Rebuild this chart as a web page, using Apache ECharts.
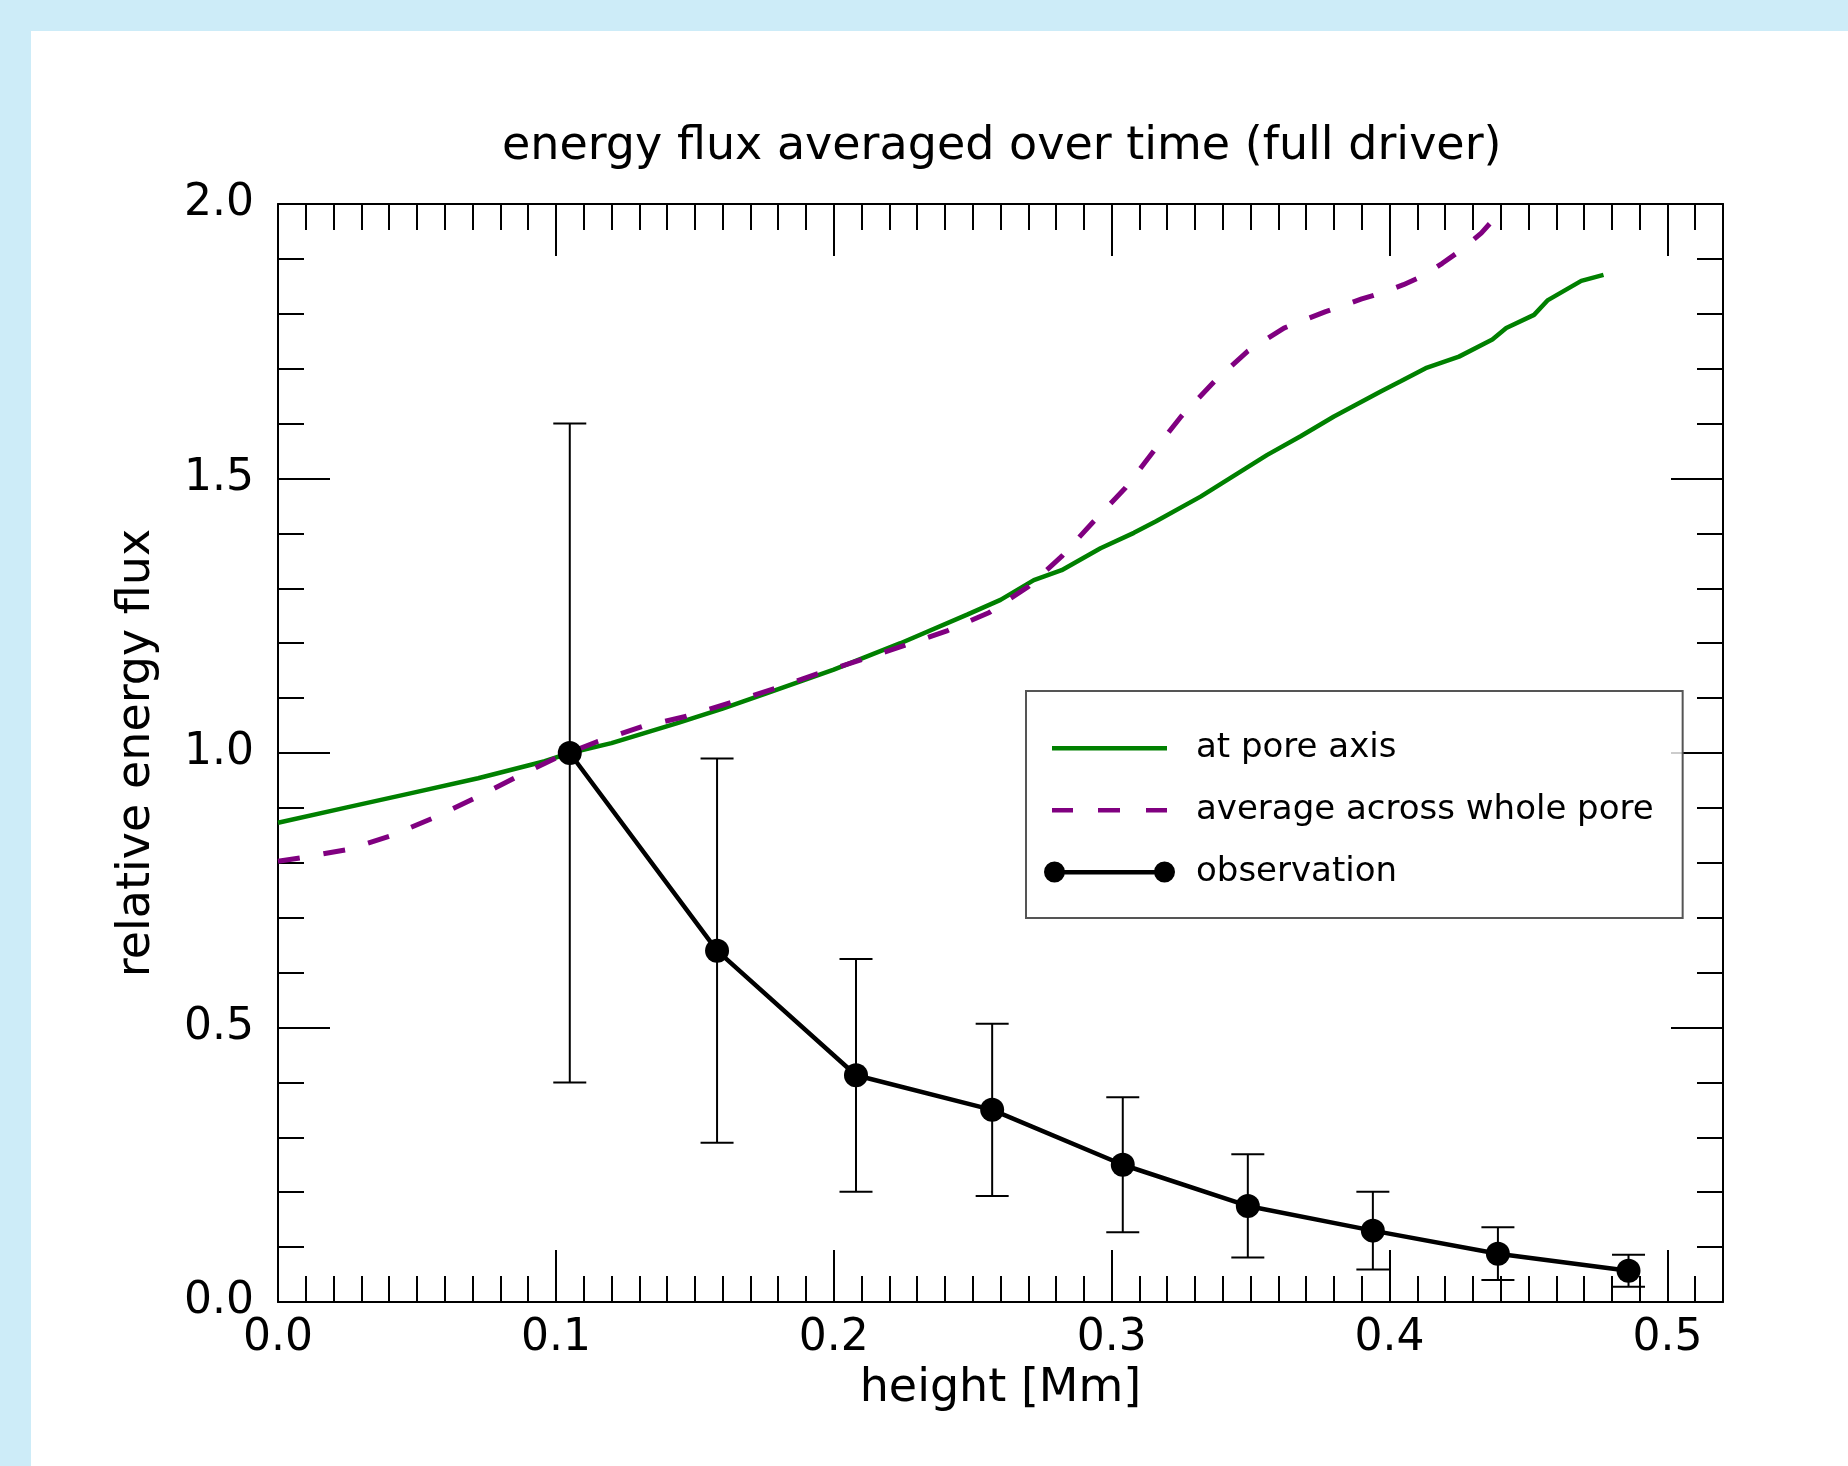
<!DOCTYPE html>
<html>
<head>
<meta charset="utf-8">
<title>energy flux averaged over time</title>
<script src="https://cdn.jsdelivr.net/npm/echarts@6/dist/echarts.min.js"></script>
<style>
  html, body { margin: 0; padding: 0; width: 1848px; height: 1466px; background: #cdecf8; overflow: hidden; }
  #chart { position: absolute; left: 31px; top: 31px; width: 1817px; height: 1435px; background: #fff; }
</style>
</head>
<body>
<div id="chart"></div>
<script>
// model: flux at the pore axis
const axisHeights = [0.000, 0.024, 0.048, 0.072, 0.096, 0.105, 0.120, 0.144, 0.160, 0.176, 0.200, 0.224, 0.248, 0.260, 0.272, 0.282, 0.296, 0.308, 0.316, 0.332, 0.356, 0.368, 0.380, 0.397, 0.404, 0.413, 0.425, 0.437, 0.442, 0.452, 0.457, 0.469, 0.477]
const axisFlux = [0.873, 0.900, 0.927, 0.954, 0.985, 1.000, 1.018, 1.055, 1.081, 1.109, 1.152, 1.200, 1.252, 1.279, 1.315, 1.333, 1.373, 1.401, 1.422, 1.467, 1.543, 1.577, 1.613, 1.659, 1.677, 1.701, 1.722, 1.753, 1.774, 1.798, 1.825, 1.860, 1.871]

// model: average over the whole pore
const poreHeights = [0.000, 0.008, 0.025, 0.040, 0.056, 0.071, 0.085, 0.100, 0.115, 0.131, 0.147, 0.163, 0.179, 0.194, 0.210, 0.226, 0.241, 0.256, 0.270, 0.282, 0.293, 0.305, 0.315, 0.325, 0.337, 0.349, 0.362, 0.377, 0.390, 0.397, 0.405, 0.412, 0.419, 0.426, 0.433, 0.4385]
const poreFlux = [0.803, 0.809, 0.824, 0.848, 0.882, 0.918, 0.954, 0.991, 1.021, 1.048, 1.067, 1.092, 1.118, 1.144, 1.170, 1.197, 1.223, 1.256, 1.303, 1.358, 1.419, 1.483, 1.549, 1.613, 1.677, 1.732, 1.774, 1.804, 1.827, 1.838, 1.853, 1.869, 1.892, 1.917, 1.947, 1.978]

// observation with error bars
const obsHeights = [0.105, 0.158, 0.208, 0.257, 0.304, 0.349, 0.394, 0.439, 0.486]
const obsFlux = [1.000, 0.640, 0.413, 0.350, 0.250, 0.175, 0.130, 0.088, 0.057]
const obsErr = [0.600, 0.350, 0.212, 0.157, 0.123, 0.094, 0.071, 0.048, 0.029]

const seriesNames = ['at pore axis', 'average across whole pore', 'observation']

const font = 'DejaVu Sans'
const green = '#008000'
const purple = '#800080'

const pairs = (xs, ys) => xs.map((x, i) => [x, ys[i]])
const errData = obsHeights.map((x, i) => [x, obsFlux[i] - obsErr[i], obsFlux[i] + obsErr[i]])

// legend samples drawn as paths (all 131 x 21 so they scale the same)
const iconAxis = 'path://M0,0M131,21M8,8.5h115v4.5h-115z'
const iconPore = 'path://M0,0M131,21M8,8.5h21v4.5h-21zM54,8.5h22v4.5h-22zM102,8.5h21v4.5h-21z'
const iconObs = 'path://M0,10.5a10.5,10.5 0 1,0 21,0a10.5,10.5 0 1,0 -21,0zM110,10.5a10.5,10.5 0 1,0 21,0a10.5,10.5 0 1,0 -21,0zM20,8.5v4.5h91v-4.5z'

const fmt = v => v.toFixed(1)

function xAxis(position, interval, tickLen, withLabels) {
  return {
    type: 'value', position: position, min: 0, max: 0.52, interval: interval,
    name: withLabels ? 'height [Mm]' : '',
    nameLocation: 'middle', nameGap: 64,
    nameTextStyle: { fontFamily: font, fontSize: 46, color: '#000' },
    axisLine: { show: interval === 0.1, onZero: false, lineStyle: { color: '#000', width: 2 } },
    axisTick: { show: true, inside: true, length: tickLen, lineStyle: { color: '#000', width: 2 } },
    axisLabel: { show: withLabels, formatter: fmt, showMaxLabel: false, margin: 15, fontFamily: font, fontSize: 44, color: '#000' },
    splitLine: { show: false }
  }
}

function yAxis(position, interval, tickLen, withLabels) {
  return {
    type: 'value', position: position, min: 0, max: 2, interval: interval,
    name: withLabels ? 'relative energy flux' : '',
    nameLocation: 'middle', nameGap: 118,
    nameTextStyle: { fontFamily: font, fontSize: 46, color: '#000' },
    axisLine: { show: interval === 0.5, onZero: false, lineStyle: { color: '#000', width: 2 } },
    axisTick: { show: true, inside: true, length: tickLen, lineStyle: { color: '#000', width: 2 } },
    axisLabel: { show: withLabels, formatter: fmt, margin: 24, padding: [6, 0, 0, 0], fontFamily: font, fontSize: 44, color: '#000' },
    splitLine: { show: false }
  }
}

const chart = echarts.init(document.getElementById('chart'), null, { renderer: 'canvas' })
chart.setOption({
  animation: false,
  title: {
    text: 'energy flux averaged over time (full driver)',
    left: 466, top: 88,
    textStyle: { fontFamily: font, fontSize: 46, fontWeight: 'normal', color: '#000' }
  },
  grid: { left: 247, top: 173, width: 1445, height: 1098, containLabel: false },
  xAxis: [
    xAxis('bottom', 0.1, 52, true),
    xAxis('bottom', 0.01, 26, false),
    xAxis('top', 0.1, 52, false),
    xAxis('top', 0.01, 26, false)
  ],
  yAxis: [
    yAxis('left', 0.5, 52, true),
    yAxis('left', 0.1, 26, false),
    yAxis('right', 0.5, 52, false),
    yAxis('right', 0.1, 26, false)
  ],
  legend: {
    orient: 'vertical',
    left: 995, top: 660,
    padding: [40, 29, 29, 18],
    itemWidth: 131, itemHeight: 21, itemGap: 28,
    selectedMode: false,
    backgroundColor: 'rgba(255,255,255,0.8)',
    borderColor: '#555', borderWidth: 2, borderRadius: 0,
    itemStyle: { borderWidth: 0 },
    textStyle: { fontFamily: font, fontSize: 34, color: '#000', padding: [0, 0, 0, 16] },
    data: [
      { name: seriesNames[0], icon: iconAxis },
      { name: seriesNames[1], icon: iconPore },
      { name: seriesNames[2], icon: iconObs }
    ]
  },
  series: [
    {
      name: seriesNames[0], type: 'line', data: pairs(axisHeights, axisFlux),
      symbol: 'none', z: 3,
      lineStyle: { color: green, width: 4.5 },
      itemStyle: { color: green }
    },
    {
      name: seriesNames[1], type: 'line', data: pairs(poreHeights, poreFlux),
      symbol: 'none', z: 4,
      lineStyle: { color: purple, width: 5, type: [22, 24] },
      itemStyle: { color: purple }
    },
    {
      name: 'error', type: 'custom', data: errData, z: 5,
      encode: { x: 0, y: [1, 2] },
      renderItem: function (params, api) {
        const lo = api.coord([api.value(0), api.value(1)])
        const hi = api.coord([api.value(0), api.value(2)])
        const cap = 16.5
        const st = { stroke: '#000', lineWidth: 2 }
        return {
          type: 'group',
          children: [
            { type: 'line', shape: { x1: lo[0], y1: lo[1], x2: hi[0], y2: hi[1] }, style: st },
            { type: 'line', shape: { x1: lo[0] - cap, y1: lo[1], x2: lo[0] + cap, y2: lo[1] }, style: st },
            { type: 'line', shape: { x1: hi[0] - cap, y1: hi[1], x2: hi[0] + cap, y2: hi[1] }, style: st }
          ]
        }
      }
    },
    {
      name: seriesNames[2], type: 'line', data: pairs(obsHeights, obsFlux),
      symbol: 'circle', symbolSize: 24, showSymbol: true, z: 6,
      lineStyle: { color: '#000', width: 4.5 },
      itemStyle: { color: '#000' }
    }
  ]
})
</script>
</body>
</html>
